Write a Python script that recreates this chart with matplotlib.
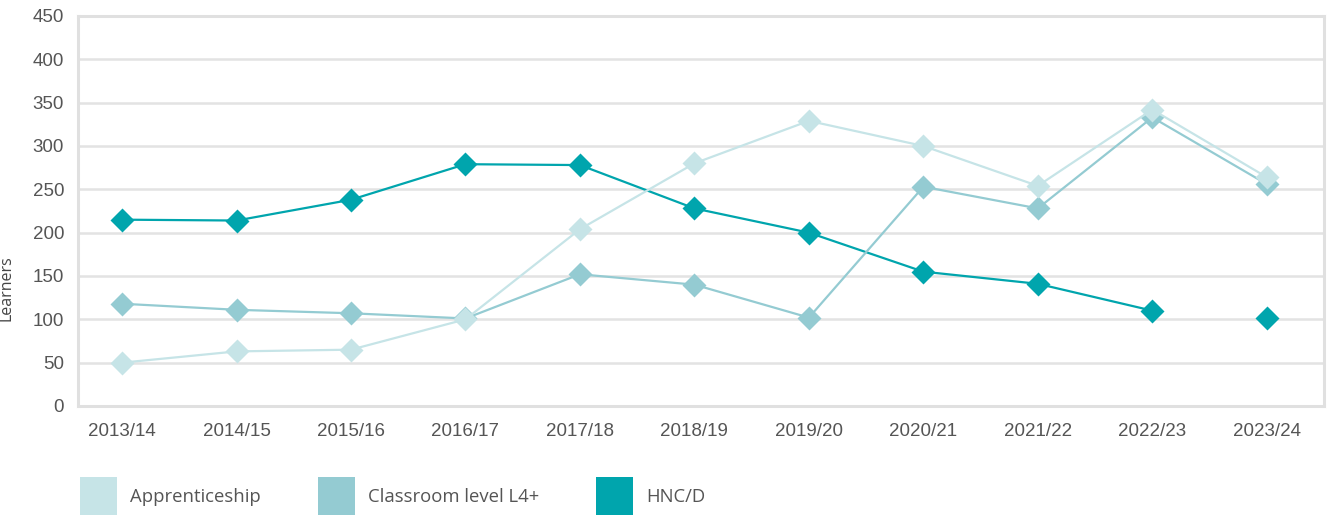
import matplotlib
matplotlib.use("Agg")
import matplotlib.pyplot as plt
from matplotlib.patches import Patch

years = ["2013/14", "2014/15", "2015/16", "2016/17", "2017/18", "2018/19",
         "2019/20", "2020/21", "2021/22", "2022/23", "2023/24"]
apprenticeship = [50, 63, 65, 100, 204, 280, 329, 300, 254, 342, 264]
classroom = [118, 111, 107, 101, 152, 140, 102, 253, 228, 333, 256]
hncd = [215, 214, 238, 279, 278, 228, 200, 155, 141, 110, 101]
# HNC/D line is not joined to its final point
hncd_line_n = 10

series_names = ["Apprenticeship", "Classroom level L4+", "HNC/D"]
colors = ["#c6e4e7", "#94cbd2", "#00a5ad"]

fig = plt.figure(figsize=(13.42, 5.25), dpi=100)
ax = fig.add_axes([78/1342, 1-406/525, (1324-78)/1342, (406-16)/525])

x = list(range(len(years)))
ms = 12.3
lw = 1.6

ax.plot(x, hncd, color="none", marker="D", ms=ms, mec="none", mfc=colors[2], zorder=3)
ax.plot(x[:hncd_line_n], hncd[:hncd_line_n], color=colors[2], lw=lw, zorder=3)
ax.plot(x, classroom, color=colors[1], lw=lw, marker="D", ms=ms, mec="none", zorder=4)
ax.plot(x, apprenticeship, color=colors[0], lw=lw, marker="D", ms=ms, mec="none", zorder=5)

ax.set_xlim(-0.385, 10.5)
ax.set_ylim(0, 450)
ax.set_yticks(range(0, 451, 50))
ax.set_xticks(x)
ax.set_xticklabels(years, family=["Liberation Sans Narrow", "Liberation Sans", "DejaVu Sans"],
                   fontsize=13.5, color="#555555")
for lab in ax.get_yticklabels():
    lab.set_family(["Liberation Sans", "DejaVu Sans"])
ax.tick_params(axis="y", length=0, pad=10, labelsize=13.5, labelcolor="#555555")
ax.tick_params(axis="x", length=0, pad=12)
ax.grid(axis="y", color="#e3e3e3", lw=1.8, zorder=0)
ax.set_axisbelow(True)
for s in ax.spines.values():
    s.set_color("#e0e0e0")
    s.set_linewidth(2.2)
ax.set_ylabel("Learners", fontsize=11.5, color="#444444", family=["Open Sans", "DejaVu Sans"])
ax.yaxis.set_label_coords(-63/1246, (406-288)/390)

handles = [Patch(facecolor=c, edgecolor="none") for c in colors]
fig.legend(handles, series_names, loc="lower left", bbox_to_anchor=(80/1342, 10/525),
           ncol=3, frameon=False, borderpad=0, borderaxespad=0,
           handlelength=2.0, handleheight=2.75, handletextpad=0.7, columnspacing=3.1,
           prop={"family": ["Open Sans", "DejaVu Sans"], "size": 13.3}, labelcolor="#555555")

fig.savefig("out.png", dpi=100)
